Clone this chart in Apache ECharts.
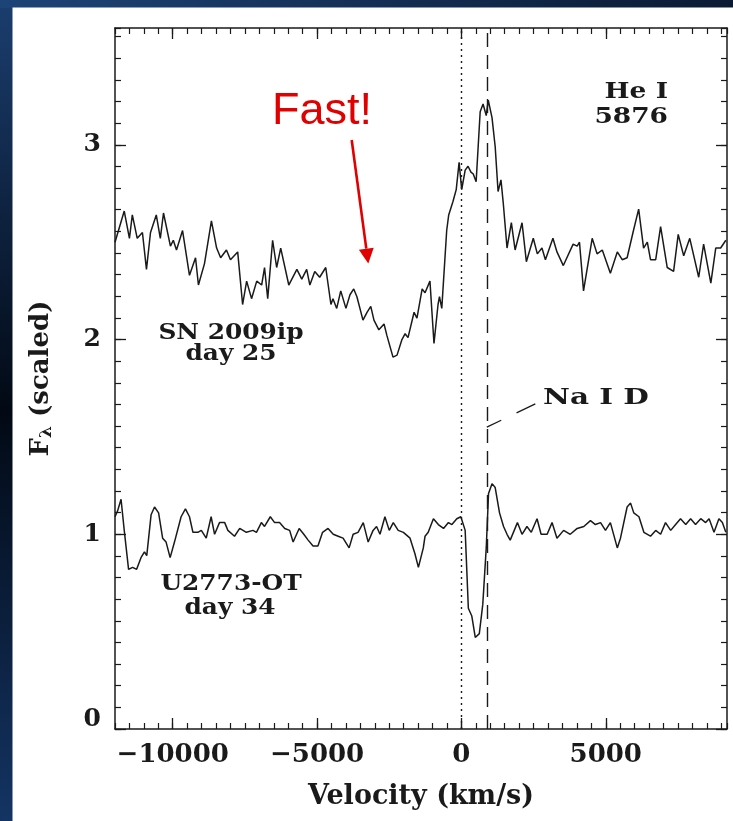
<!DOCTYPE html>
<html>
<head>
<meta charset="utf-8">
<script src="https://cdn.jsdelivr.net/npm/echarts@6/dist/echarts.min.js"></script>
<style>
  html, body { margin: 0; padding: 0; background: #0b1a33; }
  #chart { width: 733px; height: 821px; }
</style>
</head>
<body>
<div id="chart"></div>
<script>
// SN 2009ip, day 25: He I 5876 profile (velocity in km/s, scaled flux)
const snVelocity = [
  -12000,-11680,-11500,-11400,-11230,-11050,-10910,-10770,-10570,-10430,
  -10320,-10080,-9980,-9870,-9660,-9420,-9210,-9110,-8900,-8660,
  -8480,-8340,-8140,-8000,-7750,-7580,-7440,-7270,-7090,-6920,
  -6820,-6710,-6540,-6400,-6260,-5980,-5700,-5530,-5360,-5250,
  -5080,-4910,-4700,-4520,-4450,-4320,-4180,-4000,-3860,-3730,
  -3620,-3410,-3270,-3140,-3030,-2860,-2680,-2580,-2370,-2230,
  -2060,-1950,-1850,-1640,-1540,-1360,-1260,-1090,-950,-810,
  -760,-680,-510,-440,-290,-180,-80,10,130,230,
  330,410,510,650,750,860,930,1060,1170,1270,
  1370,1450,1580,1730,1860,2100,2250,2490,2630,2790,
  2910,3170,3310,3530,3870,4010,4090,4230,4530,4700,
  4880,5160,5400,5570,5740,5960,6140,6310,6440,6550,
  6730,6900,7130,7350,7510,7700,7910,8220,8390,8640,
  8810,8980,9160
];
const snFlux = [
  2.50,2.66,2.52,2.64,2.52,2.55,2.36,2.55,2.64,2.52,
  2.65,2.48,2.51,2.46,2.56,2.33,2.42,2.28,2.39,2.61,
  2.47,2.42,2.46,2.41,2.45,2.18,2.30,2.21,2.30,2.28,
  2.37,2.21,2.51,2.37,2.47,2.28,2.36,2.31,2.36,2.28,
  2.35,2.32,2.37,2.18,2.21,2.16,2.25,2.16,2.23,2.26,
  2.22,2.10,2.14,2.17,2.10,2.05,2.08,2.02,1.91,1.92,
  2.00,2.03,2.01,2.14,2.11,2.26,2.24,2.30,1.98,2.18,
  2.22,2.16,2.56,2.64,2.71,2.77,2.91,2.77,2.87,2.89,
  2.86,2.85,2.81,3.17,3.21,3.15,3.23,3.14,2.99,2.76,
  2.82,2.70,2.47,2.60,2.46,2.60,2.40,2.52,2.44,2.47,
  2.41,2.52,2.45,2.38,2.49,2.48,2.50,2.25,2.52,2.44,
  2.46,2.34,2.45,2.41,2.42,2.56,2.67,2.47,2.50,2.41,
  2.41,2.58,2.37,2.35,2.54,2.43,2.52,2.32,2.49,2.29,
  2.47,2.47,2.51
];

// U2773-OT, day 34: same velocity frame
const otVelocity = [
  -12000,-11910,-11790,-11680,-11530,-11390,-11250,-11100,-10980,-10900,
  -10750,-10630,-10490,-10350,-10230,-10090,-9940,-9710,-9560,-9420,
  -9300,-9130,-9010,-8840,-8670,-8550,-8380,-8200,-8090,-7860,
  -7680,-7450,-7220,-7100,-6930,-6820,-6620,-6470,-6300,-6120,
  -5950,-5830,-5620,-5460,-5310,-5140,-4970,-4810,-4620,-4440,
  -4270,-4100,-3890,-3750,-3580,-3400,-3230,-3060,-2940,-2820,
  -2650,-2500,-2360,-2190,-2010,-1780,-1610,-1490,-1320,-1260,
  -1150,-970,-800,-620,-450,-330,-160,-20,130,240,
  360,480,620,740,860,940,1060,1170,1320,1460,
  1580,1690,1830,1940,2100,2270,2420,2620,2760,2970,
  3140,3310,3540,3770,4010,4240,4470,4640,4820,4990,
  5160,5400,5510,5740,5860,5970,6150,6320,6550,6730,
  6900,7070,7250,7420,7590,7770,7940,8110,8290,8460,
  8580,8750,8920,9040,9160
];
const otFlux = [
  1.09,1.12,1.18,1.02,0.82,0.83,0.82,0.88,0.91,0.89,
  1.10,1.14,1.11,0.98,0.96,0.88,0.96,1.09,1.13,1.09,
  1.01,1.01,1.02,0.98,1.09,1.00,1.06,1.06,1.02,0.99,
  1.03,1.01,1.02,1.01,1.06,1.04,1.09,1.06,1.06,1.03,
  1.02,0.96,1.03,1.00,0.97,0.94,0.94,1.01,1.03,1.00,
  0.99,0.98,0.93,1.00,1.01,1.06,0.96,1.02,1.04,1.00,
  1.09,1.02,1.06,1.02,1.01,0.98,0.90,0.83,0.93,0.99,
  1.01,1.08,1.05,1.03,1.06,1.05,1.08,1.09,1.02,0.62,
  0.58,0.47,0.49,0.64,0.93,1.21,1.26,1.24,1.11,1.04,
  1.00,0.97,1.02,1.06,1.00,1.04,1.01,1.08,1.00,1.00,
  1.06,0.98,1.02,1.00,1.03,1.04,1.07,1.05,1.06,1.02,
  1.06,0.93,0.98,1.14,1.16,1.11,1.09,1.01,0.99,1.02,
  1.00,1.06,1.02,1.05,1.08,1.05,1.08,1.05,1.08,1.06,
  1.08,1.01,1.08,1.06,1.01
];

// Axis ticks and reference lines
const xMajorTicks = [-10000, -5000, 0, 5000];
const yMajorTicks = [0, 1, 2, 3];
const heIVelocity = 0;      // He I 5876 rest position
const naIDVelocity = 880;   // Na I D in the He I frame
const naLeader = { velocity: [880, 2560], flux: [1.55, 1.67] };

const SERIF = '"DejaVu Serif", "Liberation Serif", serif';
const INK = '#1a1a1a';

const chart = echarts.init(document.getElementById('chart'), null, { renderer: 'canvas' });

const pairs = (xs, ys) => xs.map((x, i) => [x, ys[i]]);
const minus = v => (v < 0 ? '\u2212' + Math.abs(v) : String(v));

function xAxisPair(position, withLabels) {
  const base = {
    type: 'value', min: -12000, max: 9200, position,
    axisLine: { show: true, onZero: false, lineStyle: { color: INK, width: 1.5 } },
    splitLine: { show: false }
  };
  return [
    Object.assign({}, base, {
      axisTick: { show: true, inside: true, length: 11, customValues: xMajorTicks, lineStyle: { color: INK, width: 1.3 } },
      axisLabel: withLabels
        ? { show: true, customValues: xMajorTicks, formatter: minus, fontFamily: SERIF, fontSize: 26, fontWeight: 'bold', color: INK, margin: 13 }
        : { show: false },
      name: withLabels ? 'Velocity (km/s)' : '',
      nameLocation: 'middle', nameGap: 54,
      nameTextStyle: { fontFamily: SERIF, fontSize: 27, fontWeight: 'bold', color: INK }
    }),
    Object.assign({}, base, {
      interval: 500,
      axisLine: { show: false, onZero: false },
      axisTick: { show: true, inside: true, length: 6, lineStyle: { color: INK, width: 1.2 } },
      axisLabel: { show: false }
    })
  ];
}

function yAxisPair(position, withLabels) {
  const base = {
    type: 'value', min: 0, max: 3.6, position,
    axisLine: { show: true, onZero: false, lineStyle: { color: INK, width: 1.5 } },
    splitLine: { show: false }
  };
  return [
    Object.assign({}, base, {
      axisTick: { show: true, inside: true, length: 11, customValues: yMajorTicks, lineStyle: { color: INK, width: 1.3 } },
      axisLabel: withLabels
        ? {
            show: true, customValues: yMajorTicks, fontFamily: SERIF, fontSize: 25, fontWeight: 'bold', color: INK, margin: 14,
            formatter: v => (v === 0 ? '{lift|0}' : String(v)),
            rich: { lift: { fontFamily: SERIF, fontSize: 25, fontWeight: 'bold', color: INK, padding: [0, 0, 20, 0] } }
          }
        : { show: false },
      name: withLabels ? '{f|F}{sub|\u03bb} (scaled)' : '',
      nameLocation: 'middle', nameRotate: 90, nameGap: 60,
      nameTextStyle: {
        fontFamily: SERIF, fontSize: 26, fontWeight: 'bold', color: INK,
        rich: {
          f: { fontFamily: SERIF, fontSize: 26, fontWeight: 'bold', color: INK },
          sub: { fontFamily: SERIF, fontSize: 17, fontWeight: 'bold', color: INK, verticalAlign: 'bottom', padding: [10, 0, 0, 0] }
        }
      }
    }),
    Object.assign({}, base, {
      interval: 1 / 9,
      axisLine: { show: false, onZero: false },
      axisTick: { show: true, inside: true, length: 6, lineStyle: { color: INK, width: 1.2 } },
      axisLabel: { show: false }
    })
  ];
}

function note(text, x, y, opt) {
  const o = Object.assign({ size: 23, weight: 'bold', align: 'center', scaleX: 1.08, fill: INK, family: SERIF }, opt || {});
  return {
    type: 'text', x, y, scaleX: o.scaleX, z: 50, silent: true,
    style: {
      text, x: 0, y: 0, fill: o.fill,
      font: `${o.weight} ${o.size}px ${o.family}`,
      align: o.align, verticalAlign: 'middle',
      textAlign: o.align, textVerticalAlign: 'middle'
    }
  };
}

// Red call-out arrow geometry
const arrowTail = [351.7, 140];
const arrowTip = [368.3, 263.5];
const dx = arrowTip[0] - arrowTail[0], dy = arrowTip[1] - arrowTail[1];
const len = Math.hypot(dx, dy), ux = dx / len, uy = dy / len;
const headLen = 15, headHalf = 7.5;
const baseC = [arrowTip[0] - ux * headLen, arrowTip[1] - uy * headLen];

const option = {
  animation: false,
  grid: { left: 115, right: 6, top: 28, bottom: 92, show: false },
  xAxis: [...xAxisPair('bottom', true), ...xAxisPair('top', false)],
  yAxis: [...yAxisPair('left', true), ...yAxisPair('right', false)],
  graphic: [
    { type: 'rect', z: -20, silent: true, shape: { x: 0, y: 0, width: 733, height: 821 },
      style: { fill: new echarts.graphic.LinearGradient(0, 0, 0, 1, [
        { offset: 0, color: '#1b3e6f' }, { offset: 0.5, color: '#020914' }, { offset: 1, color: '#143463' }
      ]) } },
    { type: 'rect', z: -19, silent: true, shape: { x: 0, y: 0, width: 733, height: 8 },
      style: { fill: new echarts.graphic.LinearGradient(0, 0, 1, 0, [
        { offset: 0, color: '#1d4477' }, { offset: 1, color: '#0a1a33' }
      ]) } },
    { type: 'rect', z: -18, silent: true, shape: { x: 12.5, y: 7.5, width: 721, height: 814 }, style: { fill: '#ffffff' } },

    note('Fast!', 322, 112, { size: 45, weight: 'normal', family: '"Liberation Sans", Arial, sans-serif', fill: '#e00000', scaleX: 1 }),
    { type: 'line', z: 50, silent: true,
      shape: { x1: arrowTail[0], y1: arrowTail[1], x2: baseC[0], y2: baseC[1] },
      style: { stroke: '#e00000', lineWidth: 2.6 } },
    { type: 'polygon', z: 50, silent: true,
      shape: { points: [
        [baseC[0] + uy * headHalf, baseC[1] - ux * headHalf],
        [baseC[0] - uy * headHalf, baseC[1] + ux * headHalf],
        arrowTip
      ] },
      style: { fill: '#e00000' } },

    note('He I', 668, 92, { align: 'right', scaleX: 1.15 }),
    note('5876', 668, 117, { align: 'right', scaleX: 1.15 }),
    note('SN 2009ip', 231, 333),
    note('day 25', 231, 354),
    note('U2773-OT', 231, 584),
    note('day 34', 230, 608),
    note('Na I D', 543, 398, { align: 'left', scaleX: 1.28 })
  ],
  series: [
    {
      name: 'SN 2009ip day 25', type: 'line', xAxisIndex: 0, yAxisIndex: 0,
      data: pairs(snVelocity, snFlux), showSymbol: false, smooth: false,
      lineStyle: { color: INK, width: 1.5 }, z: 5,
      markLine: {
        silent: true, symbol: ['none', 'none'], label: { show: false },
        data: [
          { xAxis: heIVelocity, lineStyle: { color: INK, width: 1.4, type: [2, 4] } },
          { xAxis: naIDVelocity, lineStyle: { color: INK, width: 1.4, type: [14, 8] } }
        ]
      }
    },
    {
      name: 'U2773-OT day 34', type: 'line', xAxisIndex: 0, yAxisIndex: 0,
      data: pairs(otVelocity, otFlux), showSymbol: false, smooth: false,
      lineStyle: { color: INK, width: 1.5 }, z: 5
    },
    {
      name: 'Na I D pointer', type: 'line', xAxisIndex: 0, yAxisIndex: 0,
      data: pairs(naLeader.velocity, naLeader.flux), showSymbol: false, silent: true,
      lineStyle: { color: INK, width: 1.3, type: [16, 17, 22] }, z: 5
    }
  ]
};

chart.setOption(option);
</script>
</body>
</html>
